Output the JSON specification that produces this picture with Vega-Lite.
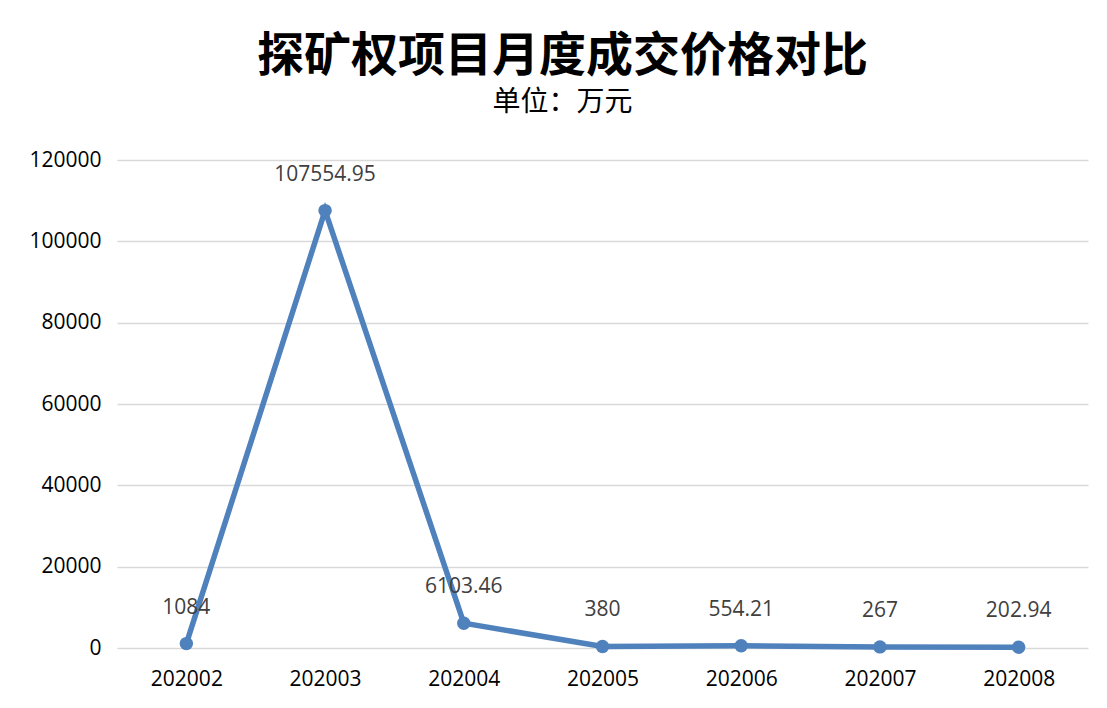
{
  "$schema": "https://vega.github.io/schema/vega-lite/v6.json",
  "autosize": {"type": "none"},
  "width": 971,
  "height": 488,
  "padding": {"left": 117, "top": 160, "right": 19, "bottom": 60},
  "background": "white",
  "title": {
    "text": "探矿权项目月度成交价格对比",
    "subtitle": "单位：万元",
    "font": "Noto Sans CJK SC",
    "fontSize": 47,
    "fontWeight": "bold",
    "color": "#000000",
    "subtitleFont": "Noto Sans CJK SC",
    "subtitleFontSize": 28,
    "subtitleColor": "#000000",
    "subtitlePadding": 8,
    "anchor": "middle",
    "dx": -40,
    "offset": 31
  },
  "data": {
    "values": [
      {"month": "202002", "price": 1084, "label": "1084"},
      {"month": "202003", "price": 107554.95, "label": "107554.95"},
      {"month": "202004", "price": 6103.46, "label": "6103.46"},
      {"month": "202005", "price": 380, "label": "380"},
      {"month": "202006", "price": 554.21, "label": "554.21"},
      {"month": "202007", "price": 267, "label": "267"},
      {"month": "202008", "price": 202.94, "label": "202.94"}
    ]
  },
  "config": {
    "view": {"stroke": null},
    "axis": {
      "labelFont": "Open Sans",
      "labelFontSize": 21,
      "labelColor": "#000000",
      "domain": false,
      "ticks": false,
      "title": null
    }
  },
  "encoding": {
    "x": {
      "field": "month",
      "type": "ordinal",
      "scale": {"paddingInner": 0, "paddingOuter": 0.5},
      "axis": {"labelAngle": 0, "labelPadding": 20, "grid": false}
    },
    "y": {
      "field": "price",
      "type": "quantitative",
      "scale": {"domain": [0, 120000], "nice": false},
      "axis": {
        "values": [0, 20000, 40000, 60000, 80000, 100000, 120000],
        "format": "d",
        "labelPadding": 16,
        "grid": true,
        "gridColor": "#d9d9d9",
        "gridWidth": 1.5
      }
    }
  },
  "layer": [
    {
      "mark": {"type": "line", "color": "#4f81bd", "strokeWidth": 5.5, "point": {"filled": true, "size": 180, "color": "#4f81bd", "opacity": 1}}
    },
    {
      "mark": {"type": "text", "dy": -36, "font": "Open Sans", "fontSize": 21, "color": "#404040"},
      "encoding": {"text": {"field": "label"}}
    }
  ]
}
